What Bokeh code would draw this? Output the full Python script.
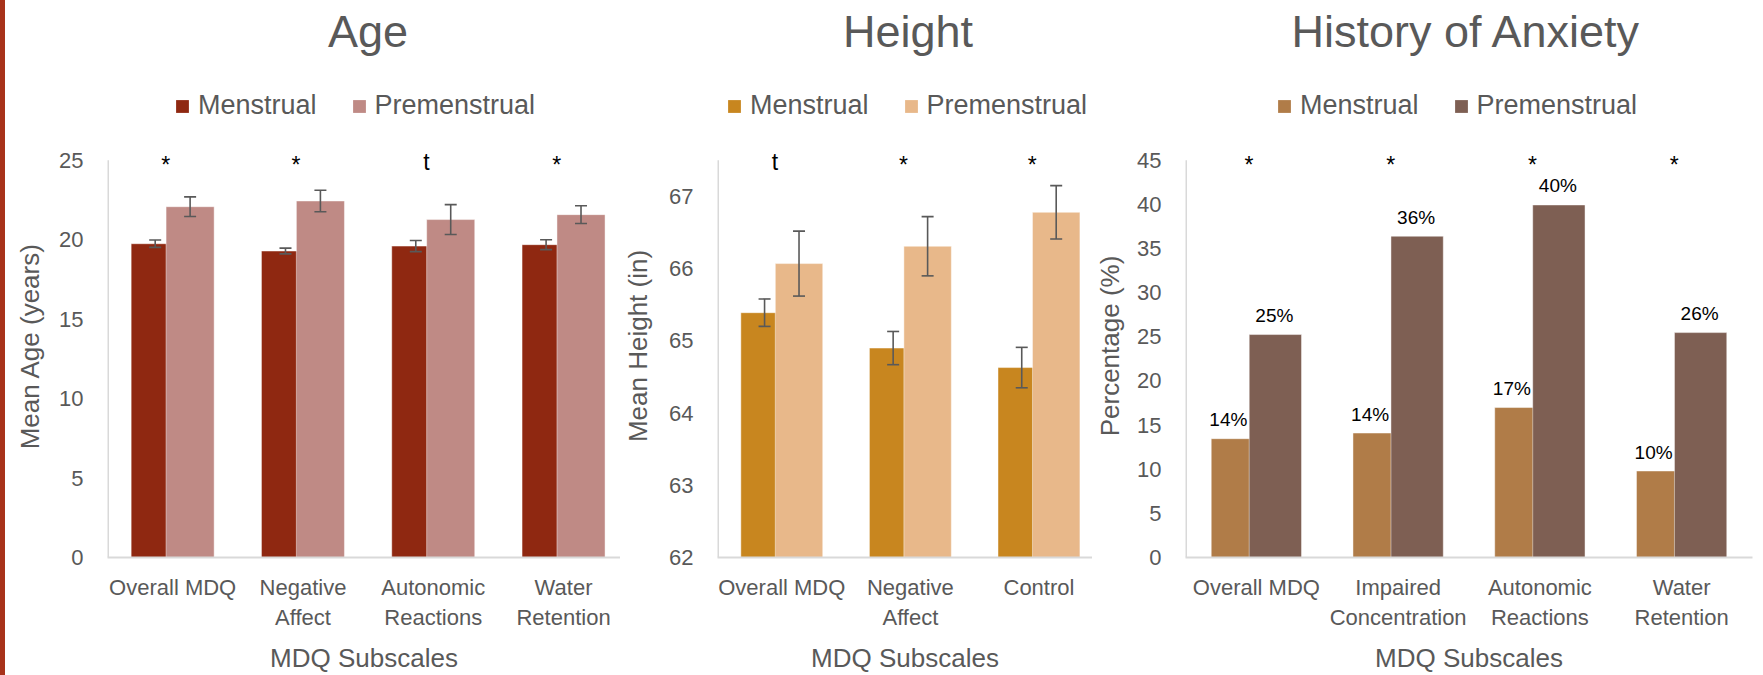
import numpy as np
from bokeh.plotting import figure
from bokeh.models import (Range1d, FixedTicker, ColumnDataSource, Whisker, TeeHead,
                          Legend, LegendItem, Label, Div)
from bokeh.core.properties import value
from bokeh.layouts import row, column
from bokeh.embed import file_html
from bokeh.resources import INLINE

# ---------------- data ----------------
series_names = ["Menstrual", "Premenstrual"]
x_axis_title = "MDQ Subscales"

age_categories = ["Overall MDQ", "Negative\nAffect", "Autonomic\nReactions", "Water\nRetention"]
age_menstrual = [19.75, 19.29, 19.60, 19.69]
age_menstrual_err = [0.23, 0.18, 0.35, 0.31]
age_premenstrual = [22.08, 22.44, 21.27, 21.58]
age_premenstrual_err = [0.62, 0.68, 0.94, 0.56]
age_significance = ["*", "*", "t", "*"]
age_y_ticks = [0, 5, 10, 15, 20, 25]

height_categories = ["Overall MDQ", "Negative\nAffect", "Control"]
height_menstrual = [65.39, 64.90, 64.63]
height_menstrual_err = [0.19, 0.23, 0.28]
height_premenstrual = [66.07, 66.31, 66.78]
height_premenstrual_err = [0.45, 0.41, 0.37]
height_significance = ["t", "*", "*"]
height_y_ticks = [62, 63, 64, 65, 66, 67]

anxiety_categories = ["Overall MDQ", "Impaired\nConcentration", "Autonomic\nReactions", "Water\nRetention"]
anxiety_menstrual = [13.46, 14.10, 16.99, 9.80]
anxiety_premenstrual = [25.26, 36.40, 39.94, 25.48]
anxiety_menstrual_labels = ["14%", "14%", "17%", "10%"]
anxiety_premenstrual_labels = ["25%", "36%", "40%", "26%"]
anxiety_significance = ["*", "*", "*", "*"]
anxiety_y_ticks = [0, 5, 10, 15, 20, 25, 30, 35, 40, 45]

# ---------------- style / layout ----------------
FONT = "Liberation Sans"
GREY = "#595959"
AXIS = "#D9D9D9"
OFF = 0.134      # dodge of each series from the category centre
BAR_W = 0.369    # bar width in category units
PAGE_H = 675
HEAD_H = 134         # height of the title/legend strip above each chart
FRAME_BOTTOM = 560   # pixel row of the x axis
PLOT_TOP = 160       # pixel row of the top of the value axis
PLOT_H = FRAME_BOTTOM - PLOT_TOP
TITLE_ROW = 31
LEGEND_BOTTOM_ROW = 121


def make_panel(title, cats, m_vals, p_vals, colors, y_start, y_top, y_ticks, y_label,
               fig_left_px, frame_left_px, frame_right_px, fig_right_px, cat_px,
               legend_left_px, ylabel_standoff,
               m_err=None, p_err=None, sig=None, m_labels=None, p_labels=None):
    n = len(cats)
    centers = np.arange(n) + 0.5
    upp = (y_top - y_start) / PLOT_H             # value units per pixel
    frame_w = frame_right_px - frame_left_px
    x_end = frame_w / cat_px

    def y_px(py):                                 # pixel row -> value
        return y_start + (FRAME_BOTTOM - py) * upp

    # ---------- head: title + legend ----------
    h = figure(width=fig_right_px - fig_left_px, height=HEAD_H,
               min_border_left=frame_left_px - fig_left_px,
               min_border_right=fig_right_px - frame_right_px,
               min_border_top=0, min_border_bottom=0,
               x_axis_type=None, y_axis_type=None,
               x_range=Range1d(0, x_end), y_range=Range1d(0, HEAD_H),
               output_backend="svg", toolbar_location=None)
    h.outline_line_color = None
    h.grid.visible = False
    h.add_layout(Label(x=n / 2, y=HEAD_H - TITLE_ROW, text=title, text_align="center",
                       text_baseline="alphabetic", text_font=FONT,
                       text_font_size="45px", text_color=GREY))
    # legend keys: zero-height bars placed off the visible range (only their swatch shows)
    key_src = ColumnDataSource(dict(x=[-1.0], top=[0.0]))
    km = h.vbar(x="x", top="top", bottom=0, width=BAR_W, source=key_src,
                fill_color=colors[0], line_color=None)
    kp = h.vbar(x="x", top="top", bottom=0, width=BAR_W, source=key_src,
                fill_color=colors[1], line_color=None)
    legend = Legend(items=[LegendItem(label=series_names[0], renderers=[km]),
                           LegendItem(label=series_names[1], renderers=[kp])],
                    orientation="horizontal",
                    location=(legend_left_px - frame_left_px, HEAD_H - LEGEND_BOTTOM_ROW))
    legend.border_line_color = None
    legend.background_fill_alpha = 0
    legend.label_text_font = FONT
    legend.label_text_font_size = "27px"
    legend.label_text_color = GREY
    legend.glyph_width = 16
    legend.glyph_height = 16
    legend.label_standoff = 8
    legend.spacing = 34
    legend.padding = 0
    legend.margin = 0
    h.add_layout(legend, "center")

    # ---------- chart ----------
    p = figure(width=fig_right_px - fig_left_px, height=PAGE_H - HEAD_H,
               min_border_left=frame_left_px - fig_left_px,
               min_border_right=fig_right_px - frame_right_px,
               min_border_top=0, min_border_bottom=PAGE_H - FRAME_BOTTOM,
               x_range=Range1d(0, x_end), y_range=Range1d(y_start, y_px(HEAD_H)),
               output_backend="svg", toolbar_location=None)
    p.outline_line_color = None
    p.xgrid.visible = False
    p.ygrid.visible = False
    p.background_fill_color = "white"
    p.border_fill_color = "white"

    # value-axis line (only up to the top tick)
    p.segment(x0=[0], y0=[y_start], x1=[0], y1=[y_top], line_color=AXIS, line_width=3)

    src_m = ColumnDataSource(dict(x=centers - OFF, top=m_vals))
    src_p = ColumnDataSource(dict(x=centers + OFF, top=p_vals))
    p.vbar(x="x", top="top", bottom=y_start, width=BAR_W, source=src_m,
           fill_color=colors[0], line_color="white", line_alpha=0.45, line_width=1)
    p.vbar(x="x", top="top", bottom=y_start, width=BAR_W, source=src_p,
           fill_color=colors[1], line_color="white", line_alpha=0.45, line_width=1)

    # error bars
    for vals, errs, xs in ((m_vals, m_err, centers - OFF), (p_vals, p_err, centers + OFF)):
        if errs is None:
            continue
        v = np.array(vals)
        e = np.array(errs)
        wsrc = ColumnDataSource(dict(base=xs, upper=v + e, lower=v - e))
        w = Whisker(source=wsrc, base="base", upper="upper", lower="lower",
                    line_color=GREY, line_width=1.6, level="overlay",
                    upper_head=TeeHead(size=12, line_color=GREY, line_width=1.6),
                    lower_head=TeeHead(size=12, line_color=GREY, line_width=1.6))
        p.add_layout(w)

    # significance marks
    if sig is not None:
        yoff = [2 if s == "t" else 5 for s in sig]
        ssrc = ColumnDataSource(dict(x=centers - 0.053, y=[y_top] * n, t=sig, yo=yoff))
        p.text(x="x", y="y", text="t", source=ssrc, y_offset="yo",
               text_align="center", text_baseline="alphabetic",
               text_font=value(FONT), text_font_size="23px", text_color="black")

    # data labels
    if m_labels is not None:
        lsrc = ColumnDataSource(dict(x=centers - OFF, y=m_vals, t=m_labels))
        p.text(x="x", y="y", text="t", source=lsrc, x_offset=-9, y_offset=-19,
               text_align="center", text_baseline="alphabetic",
               text_font=value(FONT), text_font_size="19px", text_color="black")
    if p_labels is not None:
        lsrc = ColumnDataSource(dict(x=centers + OFF, y=p_vals, t=p_labels))
        p.text(x="x", y="y", text="t", source=lsrc, x_offset=-1, y_offset=-19,
               text_align="center", text_baseline="alphabetic",
               text_font=value(FONT), text_font_size="19px", text_color="black")

    # x axis
    xa = p.xaxis[0]
    xa.ticker = FixedTicker(ticks=list(centers))
    xa.major_label_overrides = {float(c): lab for c, lab in zip(centers, cats)}
    xa.axis_line_color = AXIS
    xa.axis_line_width = 2
    xa.major_tick_line_color = None
    xa.minor_tick_line_color = None
    xa.major_tick_out = 0
    xa.major_label_standoff = 17
    xa.major_label_text_font = FONT
    xa.major_label_text_font_size = "22px"
    xa.major_label_text_color = GREY
    xa.axis_label = x_axis_title
    xa.axis_label_text_font = FONT
    xa.axis_label_text_font_size = "26px"
    xa.axis_label_text_font_style = "normal"
    xa.axis_label_text_color = GREY
    xa.axis_label_standoff = 10

    # y axis
    ya = p.yaxis[0]
    ya.ticker = FixedTicker(ticks=y_ticks)
    ya.axis_line_color = None
    ya.major_tick_line_color = None
    ya.minor_tick_line_color = None
    ya.major_tick_out = 0
    ya.major_label_standoff = 24
    ya.major_label_text_font = FONT
    ya.major_label_text_font_size = "22px"
    ya.major_label_text_color = GREY
    ya.axis_label = y_label
    ya.axis_label_text_font = FONT
    ya.axis_label_text_font_size = "26px"
    ya.axis_label_text_font_style = "normal"
    ya.axis_label_text_color = GREY
    ya.axis_label_standoff = ylabel_standoff
    return h, p


h1, p1 = make_panel("Age", age_categories, age_menstrual, age_premenstrual,
                    ("#8F2811", "#BF8A85"), 0, 25, age_y_ticks, "Mean Age (years)",
                    fig_left_px=5, frame_left_px=107, frame_right_px=620, fig_right_px=620,
                    cat_px=130.3, legend_left_px=174, ylabel_standoff=11,
                    m_err=age_menstrual_err, p_err=age_premenstrual_err, sig=age_significance)

h2, p2 = make_panel("Height", height_categories, height_menstrual, height_premenstrual,
                    ("#C8861F", "#E8B88A"), 62, 67.5, height_y_ticks, "Mean Height (in)",
                    fig_left_px=620, frame_left_px=712, frame_right_px=1092, fig_right_px=1092,
                    cat_px=130.3, legend_left_px=726, ylabel_standoff=13,
                    m_err=height_menstrual_err, p_err=height_premenstrual_err,
                    sig=height_significance)

h3, p3 = make_panel("History of Anxiety", anxiety_categories, anxiety_menstrual,
                    anxiety_premenstrual, ("#B07C48", "#7E5F53"), 0, 45, anxiety_y_ticks,
                    "Percentage (%)",
                    fig_left_px=1092, frame_left_px=1180, frame_right_px=1752, fig_right_px=1763,
                    cat_px=143, legend_left_px=1276, ylabel_standoff=9,
                    sig=anxiety_significance, m_labels=anxiety_menstrual_labels,
                    p_labels=anxiety_premenstrual_labels)

strip = Div(text="", width=5, height=PAGE_H, margin=0,
            styles={"background-color": "#A8321A"})

layout = row(strip,
             column(row(h1, h2, h3, spacing=0), row(p1, p2, p3, spacing=0), spacing=0),
             spacing=0)

with open("out.html", "w") as f:
    f.write(file_html(layout, INLINE))
